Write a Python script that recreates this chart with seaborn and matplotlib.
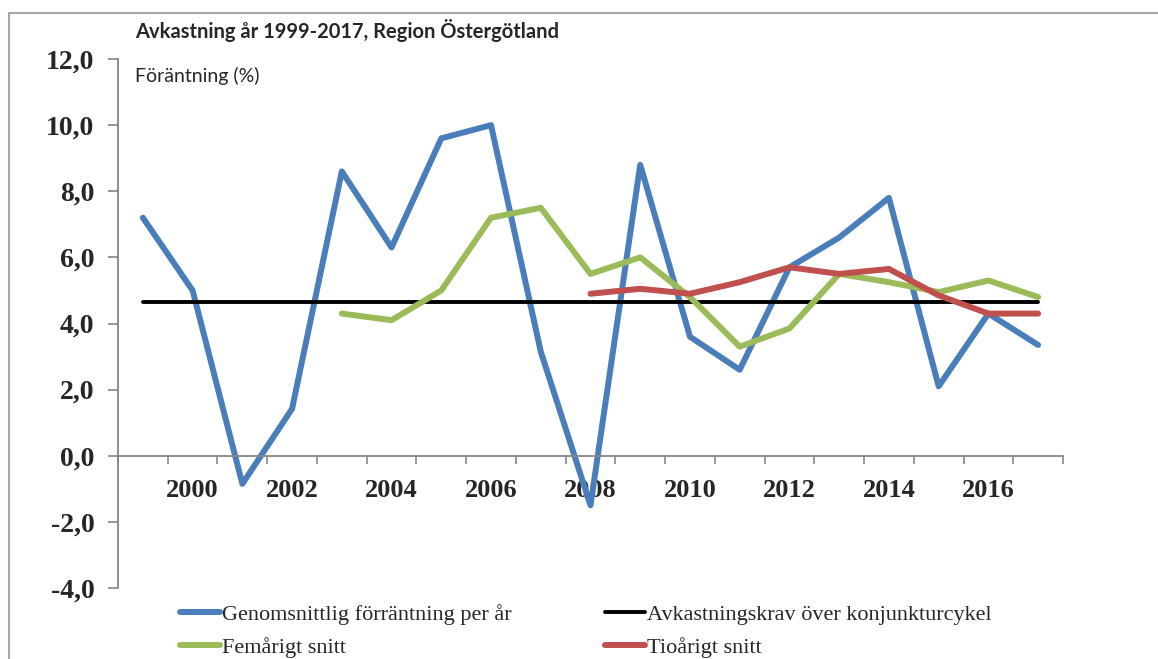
import matplotlib
matplotlib.use("Agg")
import matplotlib.pyplot as plt
from matplotlib.lines import Line2D
import seaborn as sns
import pandas as pd

# ---- data ----
years = list(range(1999, 2018))
genomsnitt = [7.2, 5.0, -0.85, 1.42, 8.6, 6.3, 9.6, 10.0, 3.15, -1.5,
              8.8, 3.6, 2.6, 5.7, 6.6, 7.8, 2.1, 4.3, 3.35]
krav = [4.65, 4.65, 4.65, 4.65, 4.65, 4.65, 4.65, 4.65, 4.65, 4.65,
        4.65, 4.65, 4.65, 4.65, 4.65, 4.65, 4.65, 4.65, 4.65]
fem_years = list(range(2003, 2018))
femarigt = [4.3, 4.1, 5.0, 7.2, 7.5, 5.5, 6.0, 4.8, 3.3, 3.85, 5.5, 5.25, 4.95, 5.3, 4.8]
tio_years = list(range(2008, 2018))
tioarigt = [4.9, 5.05, 4.9, 5.25, 5.7, 5.5, 5.65, 4.85, 4.3, 4.3]

x_label_years = [2000, 2002, 2004, 2006, 2008, 2010, 2012, 2014, 2016]
y_ticks = [-4, -2, 0, 2, 4, 6, 8, 10, 12]
y_tick_labels = ["-4,0", "-2,0", "0,0", "2,0", "4,0", "6,0", "8,0", "10,0", "12,0"]

names = ["Genomsnittlig förräntning per år", "Avkastningskrav över konjunkturcykel",
         "Femårigt snitt", "Tioårigt snitt"]
title = "Avkastning år 1999-2017, Region Östergötland"
ylab = "Föräntning (%)"

# ---- style ----
sns.set_style("white")
plt.rcParams["font.family"] = ["Liberation Serif", "DejaVu Serif"]

fig = plt.figure(figsize=(11.58, 6.59), dpi=100)
ax = fig.add_axes([118 / 1158, 1 - 588 / 659, (1063 - 118) / 1158, (588 - 59) / 659])

blue, black, green, red = "#4A7EBB", "#000000", "#9BBB59", "#C0504D"

sns.lineplot(x=years, y=genomsnitt, ax=ax, color=blue, linewidth=4.3, label=names[0])
sns.lineplot(x=years, y=krav, ax=ax, color=black, linewidth=2.8, label=names[1])
sns.lineplot(x=fem_years, y=femarigt, ax=ax, color=green, linewidth=4.3, label=names[2])
sns.lineplot(x=tio_years, y=tioarigt, ax=ax, color=red, linewidth=4.3, label=names[3])
for ln in ax.lines:
    ln.set_solid_capstyle("round")
    ln.set_solid_joinstyle("round")

ax.set_xlim(years[0] - 0.5, years[-1] + 0.5)
ax.set_ylim(-4, 12)

axis_gray = "#868686"
for s in ["top", "right"]:
    ax.spines[s].set_visible(False)
ax.spines["left"].set_color(axis_gray)
ax.spines["left"].set_linewidth(1.3)
ax.spines["bottom"].set_position(("data", 0))
ax.spines["bottom"].set_color(axis_gray)
ax.spines["bottom"].set_linewidth(1.3)

ax.set_yticks(y_ticks)
ax.set_yticklabels(y_tick_labels, fontsize=20, fontweight="bold")
ax.tick_params(axis="y", direction="out", length=7, width=1.2, color=axis_gray, pad=10, left=True)

# tick marks at category boundaries, labels at category centres
ax.set_xticks([y - 0.5 for y in years] + [years[-1] + 0.5])
ax.set_xticklabels([])
ax.set_xticks(x_label_years, minor=True)
ax.set_xticklabels([str(y) for y in x_label_years], minor=True, fontsize=19, fontweight="bold")
ax.tick_params(axis="x", which="major", direction="out", length=6, width=1.2, color=axis_gray, bottom=True)
ax.tick_params(axis="x", which="minor", length=0, pad=17)
ax.set_xlabel("")
ax.set_ylabel("")

fig.text(135 / 1158, 1 - 31 / 659, title, fontsize=14.5, fontweight="bold",
         family=["Lato", "DejaVu Sans"], ha="left", va="center")
fig.text(135 / 1158, 1 - 76 / 659, ylab, fontsize=14,
         family=["Lato", "DejaVu Sans"], ha="left", va="center")

ax.get_legend().remove()
handles, labels = ax.get_legend_handles_labels()
order = [0, 2, 1, 3]
leg = fig.legend([handles[i] for i in order], [labels[i] for i in order],
                 loc="upper left", bbox_to_anchor=(180 / 1158, 1 - 604 / 659), ncol=2,
                 frameon=False, fontsize=16, handlelength=1.8, handletextpad=0.1,
                 columnspacing=4.2, labelspacing=0.55, borderaxespad=0, borderpad=0)

# outer border (top and left)
border = "#A6A6A6"
fig.add_artist(Line2D([9 / 1158, 9 / 1158], [0, 1 - 13 / 659], transform=fig.transFigure,
                      color=border, linewidth=1.5))
fig.add_artist(Line2D([9 / 1158, 1], [1 - 13 / 659, 1 - 13 / 659], transform=fig.transFigure,
                      color=border, linewidth=1.5))

fig.savefig("out.png", dpi=100)
